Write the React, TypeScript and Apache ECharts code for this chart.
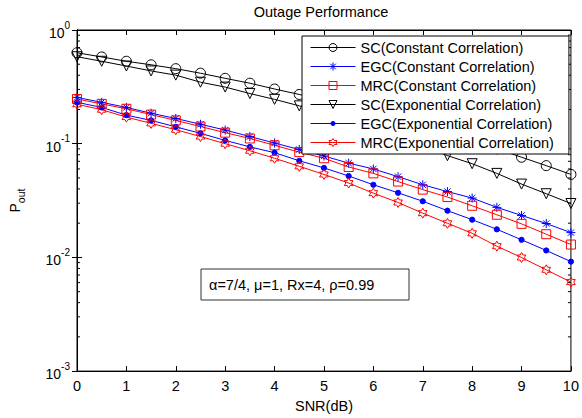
import React, { useEffect, useRef } from "react";
import * as echarts from "echarts";

const snr = [0, 0.5, 1, 1.5, 2, 2.5, 3, 3.5, 4, 4.5, 5, 5.5, 6, 6.5, 7, 7.5, 8, 8.5, 9, 9.5, 10];

// log10 of Pout
const scConstLog = [-0.2, -0.237, -0.275, -0.306, -0.34, -0.38, -0.425, -0.468, -0.519, -0.567, -0.619, -0.673, -0.729, -0.787, -0.846, -0.907, -0.969, -1.045, -1.119, -1.193, -1.27];
const egcConstLog = [-0.593, -0.636, -0.681, -0.732, -0.778, -0.829, -0.88, -0.937, -0.994, -1.051, -1.108, -1.171, -1.222, -1.29, -1.361, -1.421, -1.478, -1.56, -1.631, -1.702, -1.782];
const mrcConstLog = [-0.607, -0.65, -0.693, -0.744, -0.795, -0.849, -0.903, -0.954, -1.014, -1.074, -1.128, -1.205, -1.261, -1.333, -1.404, -1.469, -1.546, -1.625, -1.705, -1.796, -1.887];
const scExpLog = [-0.235, -0.275, -0.317, -0.36, -0.397, -0.459, -0.502, -0.559, -0.61, -0.667, -0.733, -0.8, -0.87, -0.94, -1.02, -1.105, -1.176, -1.261, -1.355, -1.44, -1.526];
const egcExpLog = [-0.636, -0.681, -0.749, -0.795, -0.852, -0.909, -0.971, -1.028, -1.079, -1.15, -1.213, -1.284, -1.361, -1.432, -1.506, -1.589, -1.668, -1.753, -1.845, -1.939, -2.037];
const mrcExpLog = [-0.653, -0.701, -0.766, -0.821, -0.877, -0.937, -1.0, -1.062, -1.128, -1.199, -1.27, -1.346, -1.435, -1.517, -1.611, -1.7, -1.788, -1.901, -2.001, -2.109, -2.217];

const seriesNames = [
  "SC(Constant Correlation)",
  "EGC(Constant Correlation)",
  "MRC(Constant Correlation)",
  "SC(Exponential Correlation)",
  "EGC(Exponential Correlation)",
  "MRC(Exponential Correlation)",
];

const ASTERISK = "path://M0,-5L0,5M-5,0L5,0M-3.5,-3.5L3.5,3.5M-3.5,3.5L3.5,-3.5";
const HEXAGRAM =
  "path://M0,-5L1.443,-2.5L4.33,-2.5L2.887,0L4.33,2.5L1.443,2.5L0,5L-1.443,2.5L-4.33,2.5L-2.887,0L-4.33,-2.5L-1.443,-2.5Z";
const TRI_DOWN = "path://M-5,-4.33L5,-4.33L0,4.33Z";
const DOT = "path://M-5,-5M5,5M-2.6,0A2.6,2.6 0 1 1 2.6,0A2.6,2.6 0 1 1 -2.6,0Z";

function toPairs(logs: number[]) {
  return snr.map((x, i) => [x, Math.pow(10, logs[i])]);
}

export default function App() {
  const ref = useRef<HTMLDivElement>(null);
  useEffect(() => {
    if (!ref.current) return;
    const chart = echarts.init(ref.current, undefined, { renderer: "svg" });
    const font = "'Liberation Sans', Arial, sans-serif";
    const fs = 14.5;

    const minorVals: number[][] = [];
    for (let d = -3; d < 0; d++) {
      for (let m = 2; m <= 9; m++) minorVals.push([0, m * Math.pow(10, d)]);
    }

    const mk = (name: string, logs: number[], color: string, symbol: string, size: number, filled: boolean, keep = false) => ({
      name,
      type: "line",
      data: toPairs(logs),
      symbol,
      symbolSize: size,
      symbolKeepAspect: keep,
      showAllSymbol: true,
      lineStyle: { color, width: 1 },
      itemStyle: { color: filled ? color : "none", borderColor: color, borderWidth: 1 },
      emphasis: { disabled: true },
      z: 3,
    });

    const option: any = {
      animation: false,
      textStyle: { fontFamily: font },
      title: {
        text: "Outage Performance",
        left: 321,
        top: 4,
        textAlign: "center",
        padding: 0,
        textStyle: { fontSize: fs, fontWeight: "normal", color: "#000", fontFamily: font },
      },
      grid: { left: 72, right: 11, top: 30, bottom: 37, show: true, borderColor: "#000", borderWidth: 1, backgroundColor: "#fff" },
      legend: {
        orient: "vertical",
        left: 302,
        top: 36,
        padding: [4, 15, 4, 8],
        itemWidth: 45,
        itemHeight: 10,
        itemGap: 4,
        backgroundColor: "#fff",
        borderColor: "#000",
        borderWidth: 1,
        lineStyle: { width: 1 },
        itemStyle: { borderWidth: 1 },
        textStyle: { fontSize: fs, color: "#000", fontFamily: font },
        data: seriesNames,
      },
      xAxis: [
        {
          type: "value",
          min: 0,
          max: 10,
          interval: 1,
          name: "SNR(dB)",
          nameLocation: "middle",
          nameGap: 20,
          nameTextStyle: { fontSize: fs, color: "#000", fontFamily: font },
          axisLine: { show: true, lineStyle: { color: "#000" } },
          axisTick: { inside: true, length: 5, lineStyle: { color: "#000" } },
          axisLabel: { fontSize: fs, color: "#000", margin: 7, fontFamily: font },
          splitLine: { show: false },
        },
        {
          type: "value",
          position: "top",
          min: 0,
          max: 10,
          interval: 1,
          axisLine: { show: true, lineStyle: { color: "#000" } },
          axisTick: { inside: true, length: 5, lineStyle: { color: "#000" } },
          axisLabel: { show: false },
          splitLine: { show: false },
        },
      ],
      yAxis: [
        {
          type: "log",
          logBase: 10,
          min: 0.001,
          max: 1,
          interval: 1,
          name: "{p|P}{s|out}",
          nameLocation: "middle",
          nameGap: 51,
          nameRotate: 90,
          nameTextStyle: {
            color: "#000",
            rich: {
              p: { fontSize: 14, fontFamily: font, color: "#000", verticalAlign: "top", lineHeight: 18 },
              s: { fontSize: 10.5, fontFamily: font, color: "#000", verticalAlign: "bottom", lineHeight: 18 },
            },
          },
          axisLine: { show: true, lineStyle: { color: "#000" } },
          axisTick: { inside: true, length: 5, lineStyle: { color: "#000" } },
          axisLabel: {
            margin: 7,
            formatter: (v: number) => `{b|10}{s|${Math.round(Math.log10(v))}}`,
            rich: {
              b: { fontSize: 14, fontFamily: font, color: "#000", verticalAlign: "bottom", lineHeight: 20 },
              s: { fontSize: 10, fontFamily: font, color: "#000", verticalAlign: "top", lineHeight: 20 },
            },
          },
          splitLine: { show: false },
        },
        {
          type: "log",
          logBase: 10,
          min: 0.001,
          max: 1,
          interval: 1,
          position: "right",
          axisLine: { show: true, lineStyle: { color: "#000" } },
          axisTick: { inside: true, length: 5, lineStyle: { color: "#000" } },
          axisLabel: { show: false },
          splitLine: { show: false },
        },
      ],
      graphic: [
        {
          type: "rect",
          shape: { x: 201, y: 269, width: 208, height: 31 },
          style: { fill: "#fff", stroke: "#333", lineWidth: 1 },
          z: 10,
        },
        {
          type: "text",
          x: 209,
          y: 285,
          style: {
            text: "α=7/4, μ=1, Rx=4, ρ=0.99",
            fontSize: 14.5,
            fontFamily: font,
            fill: "#000",
            textVerticalAlign: "middle",
            verticalAlign: "middle",
          },
          z: 11,
        },
      ],
      series: [
        {
          type: "custom",
          name: "minorTicks",
          xAxisIndex: 0,
          yAxisIndex: 0,
          data: minorVals,
          silent: true,
          clip: false,
          renderItem: (params: any, api: any) => {
            const v = api.value(1);
            const l = api.coord([0, v]);
            const r = api.coord([10, v]);
            return {
              type: "group",
              children: [
                { type: "line", shape: { x1: l[0], y1: l[1], x2: l[0] + 3, y2: l[1] }, style: { stroke: "#000", lineWidth: 1 } },
                { type: "line", shape: { x1: r[0], y1: r[1], x2: r[0] - 3, y2: r[1] }, style: { stroke: "#000", lineWidth: 1 } },
              ],
            };
          },
          z: 2,
        },
        mk(seriesNames[0], scConstLog, "#000000", "circle", 10, false),
        mk(seriesNames[1], egcConstLog, "#0000ff", ASTERISK, 9, false),
        mk(seriesNames[2], mrcConstLog, "#ff0000", "rect", 9, false),
        mk(seriesNames[3], scExpLog, "#000000", TRI_DOWN, 10, false),
        mk(seriesNames[4], egcExpLog, "#0000ff", DOT, 10, true, true),
        mk(seriesNames[5], mrcExpLog, "#ff0000", HEXAGRAM, 10, false, true),
      ],
    };
    chart.setOption(option);
    return () => chart.dispose();
  }, []);
  return <div ref={ref} style={{ width: 582, height: 418, position: "absolute", left: 0, top: 0 }} />;
}
